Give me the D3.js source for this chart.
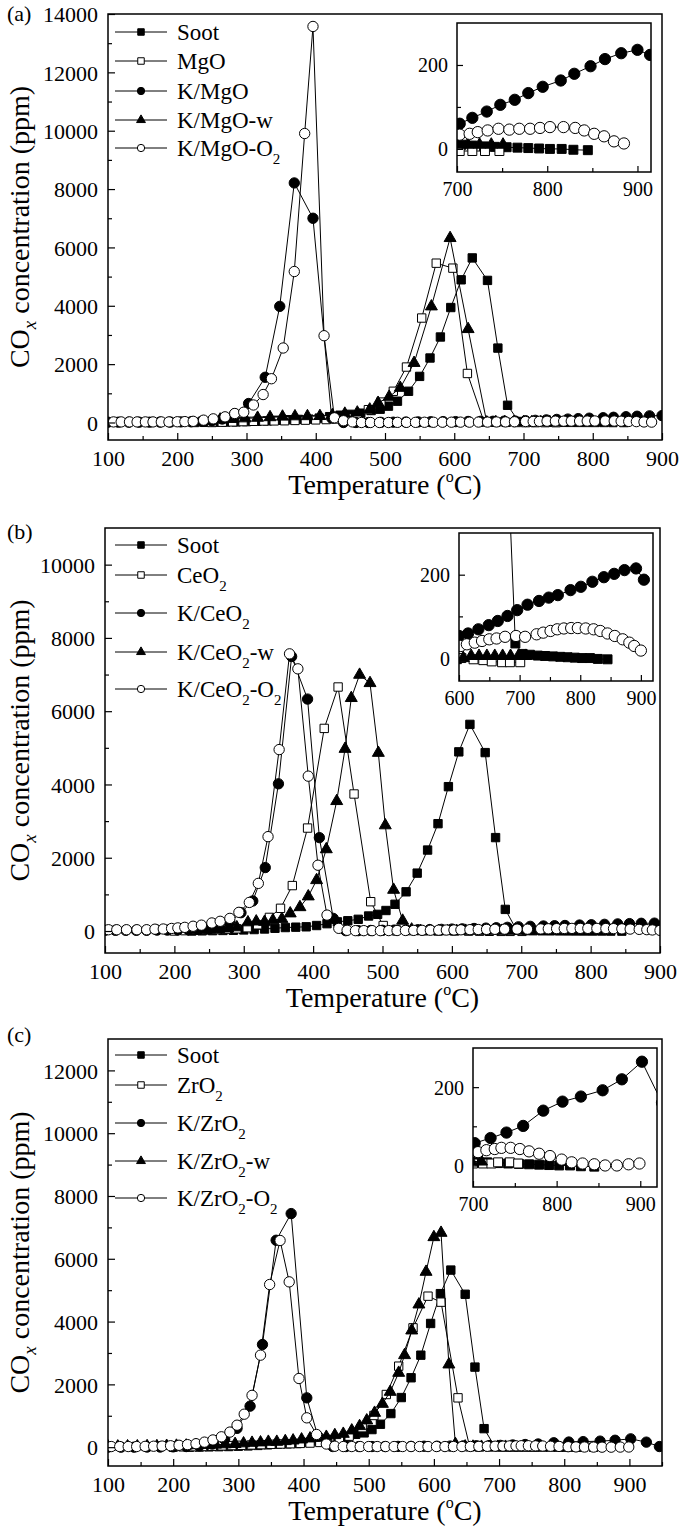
<!DOCTYPE html>
<html><head><meta charset="utf-8">
<script src="https://cdn.jsdelivr.net/npm/d3@7"></script>
<style>
body{margin:0;background:#fff}
svg{display:block}
text{font-family:"Liberation Serif","Times New Roman",serif;fill:#000}
</style>
</head><body>
<svg id="chart" width="685" height="1531"></svg>
<script>
// ---------------- DATA (temperature °C, COx ppm) ----------------
const namesA = ["Soot","MgO","K/MgO","K/MgO-w","K/MgO-O_2"];
const namesB = ["Soot","CeO_2","K/CeO_2","K/CeO_2-w","K/CeO_2-O_2"];
const namesC = ["Soot","ZrO_2","K/ZrO_2","K/ZrO_2-w","K/ZrO_2-O_2"];

const sootData = [[225,0],[240,5],[255,10],[270,15],[285,20],[300,30],[315,40],[330,55],[345,75],[360,95],[375,105],[390,115],[405,150],[420,200],[435,250],[450,280],[465,320],[480,410],[493,455],[505,560],[518,730],[534,1070],[550,1580],[565,2210],[580,2930],[595,3940],[610,4890],[626,5640],[648,4870],[663,2550],[677,590],[693,35],[705,10],[717,8],[730,6],[742,5],[755,4],[767,3],[779,2],[791,1],[803,0],[816,0],[829,-2],[845,-3]];

// panel (a)
const mgoData = [[250,0],[265,10],[280,20],[295,30],[310,40],[325,50],[340,55],[355,60],[370,70],[385,80],[400,90],[415,100],[430,120],[445,160],[460,220],[476,440],[494,700],[512,1070],[531,1900],[553,3580],[574,5460],[598,5290],[619,1680],[643,20],[660,10],[675,5],[690,0],[703,-5],[717,-5],[731,-5],[747,-5]];
const kmgoData = [[100,10],[115,10],[130,10],[145,10],[160,10],[175,15],[190,15],[205,20],[220,25],[235,40],[250,60],[265,120],[283,300],[303,650],[327,1550],[348,3980],[369,8210],[396,7000],[423,150],[440,0],[458,0],[476,0],[494,5],[512,10],[530,15],[548,20],[566,25],[584,30],[602,30],[620,35],[638,40],[656,42],[672,45],[688,50],[703,60],[717,74],[733,89],[748,105],[764,117],[779,133],[795,148],[815,163],[830,179],[848,197],[864,214],[882,228],[900,236],[914,224]];
const kmgowData = [[262,100],[280,120],[298,140],[316,160],[334,180],[352,200],[370,210],[388,215],[406,220],[424,250],[442,300],[460,340],[478,444],[490,672],[506,880],[522,1186],[542,2040],[567,3977],[594,6320],[620,3200],[647,0],[660,10],[673,10],[686,10],[700,10],[712,10],[725,10],[738,10],[751,10]];
const kmgooData = [[108,20],[119,20],[131,20],[142,20],[154,20],[165,20],[177,20],[188,20],[200,25],[211,30],[223,40],[238,80],[252,125],[269,194],[283,308],[296,353],[310,600],[324,958],[336,1500],[353,2553],[369,5174],[384,9904],[396,13573],[412,2974],[427,160],[440,60],[453,20],[466,0],[479,0],[492,0],[505,0],[518,5],[531,5],[544,5],[557,8],[570,8],[583,10],[596,10],[609,12],[622,12],[635,15],[648,15],[661,18],[674,20],[687,25],[703,34],[714,36],[723,40],[734,44],[746,48],[758,46],[769,48],[781,48],[792,50],[803,52],[818,52],[831,50],[841,44],[852,36],[863,30],[874,18],[885,13]];

// panel (b)
const ceoData = [[200,0],[215,10],[230,20],[245,30],[260,40],[275,50],[290,60],[305,90],[320,170],[337,372],[353,620],[370,1240],[392,2810],[416,5530],[436,6660],[459,3740],[483,800],[501,150],[520,30],[540,10],[560,5],[580,0],[604,0],[624,-3],[640,-5],[654,-8],[671,-10],[684,-10],[701,-10]];
const kceoData = [[100,20],[115,20],[130,20],[145,20],[160,20],[175,25],[190,25],[205,30],[220,40],[235,50],[250,60],[265,100],[280,250],[296,500],[313,820],[331,1732],[350,4018],[369,7492],[392,6331],[409,2549],[429,345],[447,10],[465,10],[483,15],[500,20],[517,25],[534,30],[551,35],[568,40],[585,45],[600,53],[615,59],[632,69],[649,79],[664,89],[680,101],[696,115],[713,128],[732,137],[748,145],[763,151],[784,163],[801,171],[820,183],[839,194],[856,202],[873,211],[892,215],[905,188]];
const kceowData = [[225,20],[238,30],[251,40],[264,50],[277,70],[290,100],[306,236],[318,260],[330,250],[342,290],[355,330],[367,480],[381,650],[393,944],[405,1388],[419,2231],[434,3546],[446,4971],[455,6358],[467,6993],[482,6766],[494,4862],[504,2884],[516,1124],[529,281],[542,40],[555,0],[568,0],[581,-5],[594,-5],[607,0],[620,5],[633,5],[646,5],[659,5],[672,5],[685,5],[698,5],[710,5]];
const kceooData = [[105,35],[117,35],[131,35],[146,35],[160,35],[172,50],[184,55],[196,70],[205,85],[215,100],[227,130],[239,160],[254,220],[266,265],[280,345],[293,510],[308,780],[321,1300],[335,2576],[351,4952],[366,7565],[378,7156],[393,4227],[407,1796],[420,435],[437,73],[449,20],[461,10],[473,10],[485,10],[497,10],[509,12],[521,14],[533,15],[545,17],[557,19],[569,21],[581,24],[592,27],[603,29],[613,33],[626,37],[638,41],[650,45],[662,47],[676,51],[694,53],[709,51],[728,57],[739,61],[751,65],[762,69],[773,71],[785,72],[796,72],[809,71],[822,69],[833,65],[845,59],[857,53],[870,45],[881,37],[889,29],[900,18]];

// panel (c)
const zroData = [[200,0],[215,10],[230,15],[245,20],[260,30],[275,40],[290,50],[305,60],[320,70],[335,80],[350,90],[365,100],[380,110],[395,120],[410,130],[425,150],[440,180],[455,230],[470,350],[490,620],[508,1009],[527,1677],[546,2580],[568,3800],[591,4809],[611,4618],[637,1571],[655,10],[670,5],[685,5],[700,5],[712,5],[722,5],[730,8],[744,8],[754,5]];
const kzroData = [[100,0],[120,0],[140,0],[160,5],[180,5],[200,10],[220,20],[240,40],[260,100],[279,250],[298,600],[318,1306],[337,3270],[358,6590],[381,7440],[405,1571],[422,350],[445,20],[465,20],[485,20],[505,20],[525,20],[545,25],[565,25],[585,30],[605,30],[625,35],[645,40],[665,45],[685,50],[702,57],[721,70],[740,84],[760,101],[784,140],[807,163],[829,176],[855,192],[878,220],[902,265],[926,160],[946,20]];
const kzrowData = [[100,20],[115,20],[130,25],[145,25],[160,30],[175,30],[190,40],[205,45],[220,50],[235,60],[250,70],[265,80],[280,90],[295,100],[308,120],[321,138],[334,150],[346,170],[359,170],[372,191],[384,212],[397,244],[410,276],[422,297],[435,328],[448,382],[461,424],[474,531],[486,669],[497,850],[509,1093],[521,1379],[533,1761],[546,2367],[555,2930],[566,3716],[577,4544],[588,5584],[600,6688],[611,6826],[623,2633],[633,100],[648,20],[660,15],[673,10],[686,10],[698,10],[710,10]];
const kzrooData = [[105,20],[118,20],[131,20],[144,20],[157,25],[170,30],[183,35],[196,45],[209,60],[222,80],[235,110],[248,160],[261,230],[274,330],[287,480],[298,700],[309,1050],[321,1650],[334,2930],[348,5180],[364,6583],[378,5265],[393,2187],[405,934],[420,404],[435,100],[448,30],[461,20],[474,20],[487,20],[500,20],[513,20],[526,20],[539,20],[552,20],[565,20],[578,20],[591,20],[604,20],[617,20],[630,20],[643,20],[656,22],[669,25],[682,28],[694,31],[706,34],[716,39],[726,42],[734,45],[745,45],[756,42],[767,36],[779,30],[792,24],[806,15],[818,8],[831,5],[845,3],[858,0],[872,0],[886,3],[899,5]];

// tick values
const xTicksAB = [100,200,300,400,500,600,700,800,900];
const xTicksC = [100,200,300,400,500,600,700,800,900];
const yTicksA = [0,2000,4000,6000,8000,10000,12000,14000];
const yTicksB = [0,2000,4000,6000,8000,10000];
const yTicksC = [0,2000,4000,6000,8000,10000,12000];
const insetXTicksA = [700,800,900];
const insetXTicksB = [600,700,800,900];
const insetXTicksC = [700,800,900];
const insetYTicks = [0,200];

// ---------------- LAYOUT ----------------
const panels = [
  {label:"(a)", labelY:21, names:namesA, series:[sootData,mgoData,kmgoData,kmgowData,kmgooData],
   xd:[100,900], xr:[108,662], yd:[-600,14000], yr:[440,14],
   xMajor:xTicksAB, xMinor:d3.range(150,900,100), yMajor:yTicksA, yMinor:d3.range(1000,14000,2000),
   legendY:[32,61,91,120,148],
   inset:{xd:[700,915], xr:[457,651], yd:[-55,300], yr:[172,23], xMajor:insetXTicksA, xMinor:[750,850], yMajor:insetYTicks, yMinor:[100]}},
  {label:"(b)", labelY:539, names:namesB, series:[sootData,ceoData,kceoData,kceowData,kceooData],
   xd:[100,900], xr:[105,660], yd:[-600,11000], yr:[953,528],
   xMajor:xTicksAB, xMinor:d3.range(150,900,100), yMajor:yTicksB, yMinor:d3.range(1000,11000,2000),
   legendY:[545,575,613,652,689],
   inset:{xd:[600,920], xr:[459,653], yd:[-55,300], yr:[681,533], xMajor:insetXTicksB, xMinor:[650,750,850], yMajor:insetYTicks, yMinor:[100]}},
  {label:"(c)", labelY:1042, names:namesC, series:[sootData,zroData,kzroData,kzrowData,kzrooData],
   xd:[100,950], xr:[108,662], yd:[-600,13000], yr:[1466,1039],
   xMajor:xTicksC, xMinor:d3.range(150,951,100), yMajor:yTicksC, yMinor:d3.range(1000,13000,2000),
   legendY:[1055,1085,1123,1161,1198],
   inset:{xd:[700,920], xr:[473,657], yd:[-55,300], yr:[1187,1048], xMajor:insetXTicksC, xMinor:[750,850], yMajor:insetYTicks, yMinor:[100]}}
];

const shapes = [d3.symbolSquare, d3.symbolSquare, d3.symbolCircle, d3.symbolTriangle, d3.symbolCircle];
const fills = ["#000","#fff","#000","#000","#fff"];
const sizeMain = [70,70,84,62,84];
const sizeInset = [80,80,100,64,100];
const sizeLegend = [42,42,42,34,42];

const svg = d3.select("#chart");
const FONT = '"Liberation Serif","Times New Roman",serif';
let clipId = 0;

function richText(sel, str, sub, drop) {
  const parts = str.split(/_(.)/);
  parts.forEach((p, i) => {
    if (!p) return;
    const ts = sel.append("tspan").text(p);
    if (i % 2 === 1) ts.attr("font-size", sub).attr("dy", drop);
    else if (i > 0) ts.attr("dy", -drop);
  });
}

function drawSeries(g, data, x, y, k, sizes) {
  g.append("path").datum(data)
    .attr("d", d3.line().x(d => x(d[0])).y(d => y(d[1])))
    .attr("fill", "none").attr("stroke", "#000").attr("stroke-width", 1);
  g.selectAll(null).data(data).join("path")
    .attr("transform", d => `translate(${x(d[0])},${y(d[1])})`)
    .attr("d", d3.symbol(shapes[k], sizes[k]))
    .attr("fill", fills[k]).attr("stroke", "#000").attr("stroke-width", 1);
}

function drawAxes(g, x, y, o, fs, majLen, minLen, xLabOff, yLabOff) {
  const [x0, x1] = x.range(), [y0, y1] = y.range();
  const ax = g.append("g").attr("transform", `translate(0,${y0})`)
    .call(d3.axisBottom(x).tickValues(o.xMajor).tickSize(-majLen).tickFormat(d3.format("d")));
  ax.select(".domain").remove();
  ax.selectAll("text").attr("y", xLabOff).attr("dy", "0.35em").attr("font-size", fs).attr("font-family", FONT);
  const axm = g.append("g").attr("transform", `translate(0,${y0})`)
    .call(d3.axisBottom(x).tickValues(o.xMinor).tickSize(-minLen).tickFormat(""));
  axm.select(".domain").remove();
  const ay = g.append("g").attr("transform", `translate(${x0},0)`)
    .call(d3.axisLeft(y).tickValues(o.yMajor).tickSize(-majLen).tickFormat(d3.format("d")));
  ay.select(".domain").remove();
  ay.selectAll("text").attr("x", -yLabOff).attr("dy", "0.35em").attr("font-size", fs).attr("font-family", FONT);
  const aym = g.append("g").attr("transform", `translate(${x0},0)`)
    .call(d3.axisLeft(y).tickValues(o.yMinor).tickSize(-minLen).tickFormat(""));
  aym.select(".domain").remove();
  g.selectAll(".tick line").attr("stroke", "#000").attr("stroke-width", 1.2);
  g.append("rect").attr("x", x0).attr("y", y1).attr("width", x1 - x0).attr("height", y0 - y1)
    .attr("fill", "none").attr("stroke", "#000").attr("stroke-width", 1.5);
}

panels.forEach(p => {
  const g = svg.append("g");
  const x = d3.scaleLinear().domain(p.xd).range(p.xr);
  const y = d3.scaleLinear().domain(p.yd).range(p.yr);
  const cid = "clip" + (clipId++);
  g.append("clipPath").attr("id", cid).append("rect")
    .attr("x", p.xr[0]).attr("y", p.yr[1]).attr("width", p.xr[1] - p.xr[0]).attr("height", p.yr[0] - p.yr[1]);
  const plot = g.append("g").attr("clip-path", `url(#${cid})`);
  p.series.forEach((s, k) => drawSeries(plot, s, x, y, k, sizeMain));
  drawAxes(g, x, y, p, 22, 7, 4, 18, 10);

  // inset
  const ins = p.inset;
  const xi = d3.scaleLinear().domain(ins.xd).range(ins.xr);
  const yi = d3.scaleLinear().domain(ins.yd).range(ins.yr);
  g.append("rect").attr("x", ins.xr[0]).attr("y", ins.yr[1]).attr("width", ins.xr[1] - ins.xr[0])
    .attr("height", ins.yr[0] - ins.yr[1]).attr("fill", "#fff");
  const cid2 = "clip" + (clipId++);
  g.append("clipPath").attr("id", cid2).append("rect")
    .attr("x", ins.xr[0]).attr("y", ins.yr[1]).attr("width", ins.xr[1] - ins.xr[0]).attr("height", ins.yr[0] - ins.yr[1]);
  const iplot = g.append("g").attr("clip-path", `url(#${cid2})`);
  p.series.forEach((s, k) => drawSeries(iplot, s, xi, yi, k, sizeInset));
  drawAxes(g, xi, yi, ins, 20, 6, 4, 17, 9);

  // legend
  p.names.forEach((nm, k) => {
    const ly = p.legendY[k];
    g.append("line").attr("x1", 115).attr("x2", 167).attr("y1", ly).attr("y2", ly)
      .attr("stroke", "#000").attr("stroke-width", 1);
    g.append("path").attr("transform", `translate(141,${ly})`)
      .attr("d", d3.symbol(shapes[k], sizeLegend[k])).attr("fill", fills[k])
      .attr("stroke", "#000").attr("stroke-width", 1);
    const t = g.append("text").attr("x", 177).attr("y", ly + 8).attr("font-size", 23);
    richText(t, nm, 15, 8);
  });

  // panel label
  g.append("text").attr("x", 7).attr("y", p.labelY).attr("font-size", 22).text(p.label);

  // axis titles
  const cx = (p.xr[0] + p.xr[1]) / 2;
  const xt = g.append("text").attr("x", cx).attr("y", p.yr[0] + 54).attr("text-anchor", "middle").attr("font-size", 28);
  xt.append("tspan").text("Temperature (");
  xt.append("tspan").text("o").attr("font-size", 16).attr("dy", -12);
  xt.append("tspan").text("C)").attr("dy", 12);

  const cy = (p.yr[0] + p.yr[1]) / 2;
  const yt = g.append("text").attr("transform", `translate(29,${cy}) rotate(-90)`)
    .attr("text-anchor", "middle").attr("font-size", 28);
  yt.append("tspan").text("CO");
  yt.append("tspan").text("x").attr("font-style", "italic").attr("font-size", 19).attr("dy", 7);
  yt.append("tspan").text(" concentration (ppm)").attr("dy", -7);
});
</script>
</body></html>
